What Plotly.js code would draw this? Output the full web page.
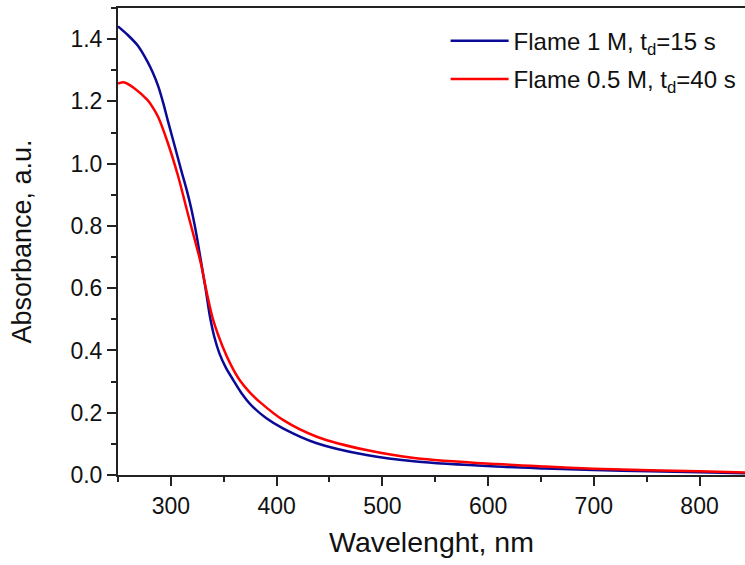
<!DOCTYPE html>
<html>
<head>
<meta charset="utf-8">
<script src="https://cdn.plot.ly/plotly-3.0.1.min.js"></script>
<style>html,body{margin:0;padding:0;background:#fff;}#chart{width:745px;height:565px;}</style>
</head>
<body>
<div id="chart"></div>
<script>
// Flame 1 M, td = 15 s (blue)
var wavelengthBlue = [250, 259, 269, 278, 283, 288, 293, 297, 304, 310, 315, 319, 324, 328, 333, 337, 341, 346, 352, 359, 367, 375, 390, 406, 438, 485, 532, 608, 654, 700, 753, 800, 843];
var absorbanceBlue = [1.441, 1.414, 1.378, 1.327, 1.292, 1.249, 1.192, 1.140, 1.052, 0.976, 0.915, 0.860, 0.776, 0.696, 0.595, 0.508, 0.445, 0.390, 0.345, 0.305, 0.262, 0.228, 0.183, 0.150, 0.102, 0.064, 0.043, 0.027, 0.021, 0.016, 0.012, 0.009, 0.006];
// Flame 0.5 M, td = 40 s (red)
var wavelengthRed = [250, 256, 266, 278, 283, 288, 297, 307, 316, 326, 329, 334, 340, 349, 357, 365, 375, 384, 406, 438, 485, 532, 608, 654, 700, 753, 800, 843];
var absorbanceRed = [1.257, 1.261, 1.241, 1.204, 1.180, 1.150, 1.068, 0.958, 0.840, 0.712, 0.670, 0.585, 0.498, 0.412, 0.352, 0.305, 0.264, 0.235, 0.177, 0.123, 0.080, 0.054, 0.035, 0.027, 0.020, 0.015, 0.012, 0.008];
var seriesNames = ['Flame 1 M, t<sub>d</sub>=15 s', 'Flame 0.5 M, t<sub>d</sub>=40 s'];
var xTitle = 'Wavelenght, nm';
var yTitle = 'Absorbance, a.u.';

var font = 'Liberation Sans, Arial, sans-serif';
var traces = [
  {x: wavelengthBlue, y: absorbanceBlue, name: seriesNames[0], legendgroup: 'a', type: 'scatter', mode: 'lines',
   line: {color: '#0a0a96', width: 2.5, shape: 'spline', smoothing: 0.8}},
  {x: wavelengthRed, y: absorbanceRed, name: seriesNames[1], legendgroup: 'b', type: 'scatter', mode: 'lines',
   line: {color: '#ff0000', width: 2.5, shape: 'spline', smoothing: 0.8}}
];
var layout = {
  width: 745, height: 565,
  margin: {l: 118, r: 0, t: 8, b: 90, pad: 0},
  paper_bgcolor: '#fff', plot_bgcolor: '#fff',
  font: {family: font, size: 22, color: '#111'},
  showlegend: true,
  legend: {x: 0.5225, xanchor: 'left', y: 0.977, yanchor: 'top', bgcolor: 'rgba(0,0,0,0)',
           font: {family: font, size: 24, color: '#111'}, itemwidth: 58, tracegroupgap: 4},
  xaxis: {range: [250, 843], dtick: 100, tick0: 0, showgrid: false, zeroline: false,
          showline: true, linecolor: '#222', linewidth: 2, mirror: true,
          ticks: 'outside', ticklen: 9, tickwidth: 2, tickcolor: '#222',
          minor: {dtick: 50, ticklen: 5, tickwidth: 2, tickcolor: '#222', ticks: 'outside', showgrid: false},
          tickfont: {family: font, size: 23, color: '#111'},
          title: {text: xTitle, font: {family: font, size: 28.5, color: '#111'}, standoff: 14}},
  yaxis: {range: [0, 1.5], dtick: 0.2, tick0: 0, tickformat: '.1f', showgrid: false, zeroline: false,
          showline: true, linecolor: '#222', linewidth: 2,
          ticks: 'outside', ticklen: 9, tickwidth: 2, tickcolor: '#222',
          minor: {dtick: 0.1, ticklen: 5, tickwidth: 2, tickcolor: '#222', ticks: 'outside', showgrid: false},
          tickfont: {family: font, size: 23, color: '#111'},
          title: {text: yTitle, font: {family: font, size: 27, color: '#111'}, standoff: 31}}
};
Plotly.newPlot('chart', traces, layout, {displayModeBar: false, staticPlot: true});
</script>
</body>
</html>
